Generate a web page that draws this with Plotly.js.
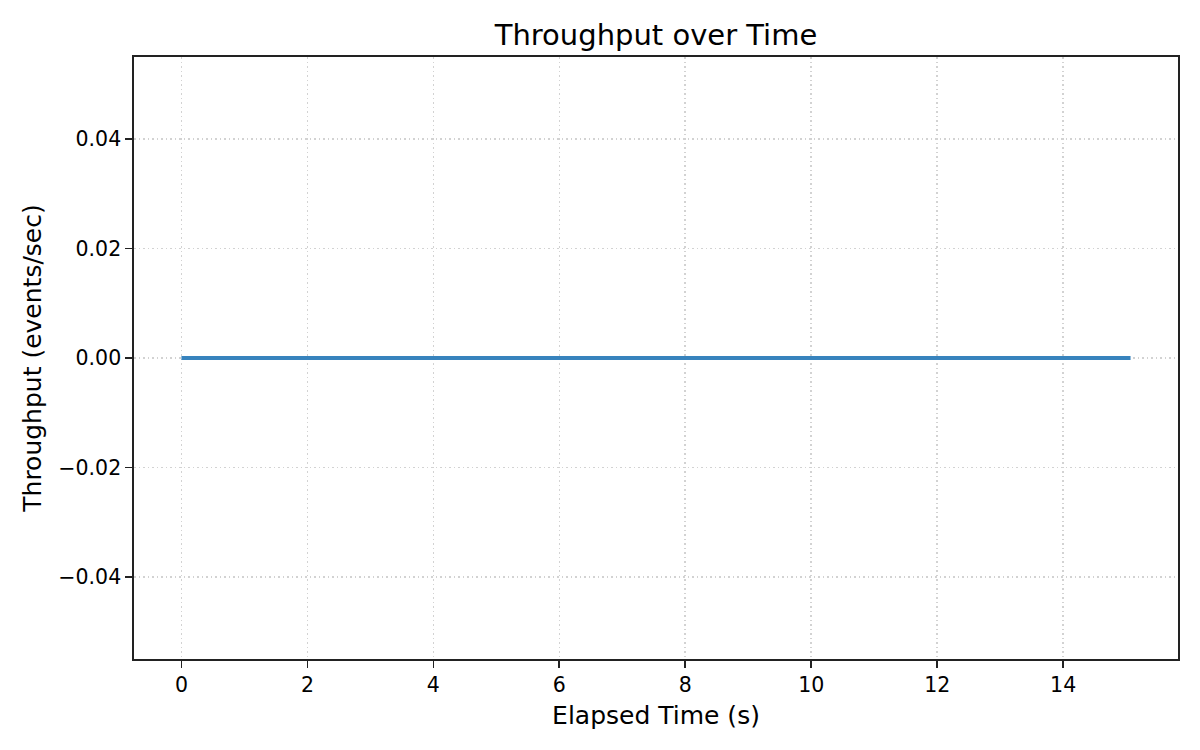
<!DOCTYPE html>
<html>
<head>
<meta charset="utf-8">
<script src="https://cdn.plot.ly/plotly-3.0.1.min.js"></script>
<style>html,body{margin:0;padding:0;background:#fff;}#chart{width:1200px;height:750px;}</style>
</head>
<body>
<div id="chart"></div>
<script>
const elapsedTime = [0, 1, 2, 3, 4, 5, 6, 7, 8, 9, 10, 11, 12, 13, 14, 15.07];
const throughput = [0, 0, 0, 0, 0, 0, 0, 0, 0, 0, 0, 0, 0, 0, 0, 0];
const xTicks = [0, 2, 4, 6, 8, 10, 12, 14];
const yTicks = [-0.04, -0.02, 0, 0.02, 0.04];

const font = 'DejaVu Sans, sans-serif';
const trace = {
  x: elapsedTime, y: throughput, type: 'scatter', mode: 'lines',
  line: {color: '#3783bd', width: 4}, hoverinfo: 'skip'
};
const axisCommon = {
  showline: true, mirror: true, linecolor: '#222', linewidth: 1.7,
  ticks: 'outside', ticklen: 7, tickwidth: 1.7, tickcolor: '#222',
  showgrid: true, gridcolor: '#d2d2d2', griddash: '1.7px,2.8px', gridwidth: 1.6,
  zeroline: false, tickfont: {family: font, size: 20.5, color: '#000'}
};
const layout = {
  width: 1200, height: 750, paper_bgcolor: '#fff', plot_bgcolor: '#fff',
  margin: {l: 134, r: 22, t: 57, b: 91},
  showlegend: false,
  title: {text: 'Throughput over Time', font: {family: font, size: 29, color: '#000'}, x: 0.5, xref: 'paper', xanchor: 'center', y: 1, yref: 'paper', yanchor: 'bottom', pad: {b: 12}},
  xaxis: Object.assign({}, axisCommon, {
    range: [-0.7535, 15.8235], tickvals: xTicks, ticktext: xTicks.map(String),
    title: {text: 'Elapsed Time (s)', font: {family: font, size: 25, color: '#000'}, standoff: 10}
  }),
  yaxis: Object.assign({}, axisCommon, {
    range: [-0.055, 0.055], tickvals: yTicks, tickformat: '.2f',
    title: {text: 'Throughput (events/sec)', font: {family: font, size: 25, color: '#000'}, standoff: 9}
  })
};
Plotly.newPlot('chart', [trace], layout, {staticPlot: true, displayModeBar: false});
</script>
</body>
</html>
